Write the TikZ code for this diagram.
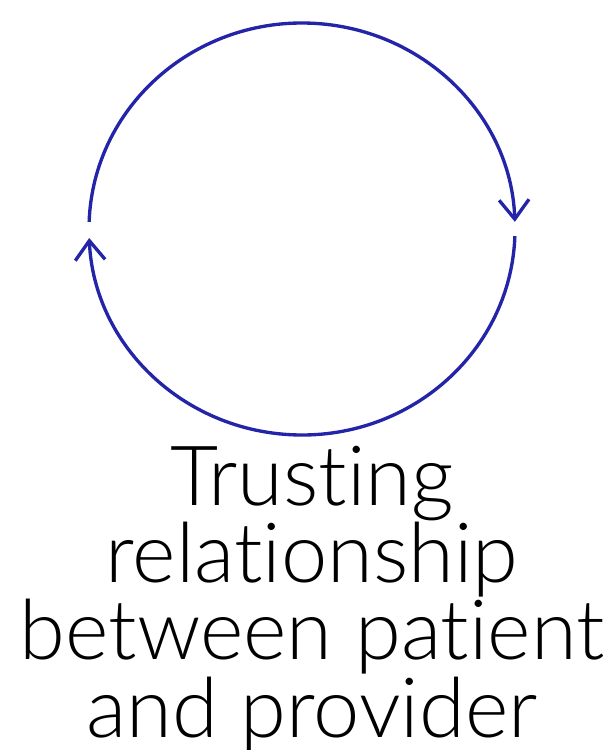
\documentclass[tikz,border=0pt]{standalone}
\usepackage{fontspec}
\setmainfont{Lato}[UprightFont=* Light, Ligatures={NoCommon,NoRare}]
\usepackage{tikz}
\usetikzlibrary{arrows.meta}
\definecolor{loopblue}{RGB}{36,36,168}

\begin{document}
\begin{tikzpicture}[x=0.02cm,y=0.02cm,
  loop/.style={-{Straight Barb[length=11pt,width=17pt,line width=1.9pt]}, line width=1.9pt, loopblue}]
\useasboundingbox (0,0) rectangle (615,-750);
% upper half, clockwise to the right
\draw[loop] (302,-229) ++(178:213 and 206) arc[start angle=178, end angle=2, x radius=213, y radius=206];
% lower half, clockwise to the left
\draw[loop] (302,-229) ++(-2:213 and 206) arc[start angle=-2, end angle=-177.5, x radius=213, y radius=206];
\node[anchor=base, align=center, font=\fontsize{47.3}{44}\selectfont, inner sep=0pt] (label) at (312,-737)
  {Trusting\\relationship\\between patient\\and provider};
\end{tikzpicture}
\end{document}
